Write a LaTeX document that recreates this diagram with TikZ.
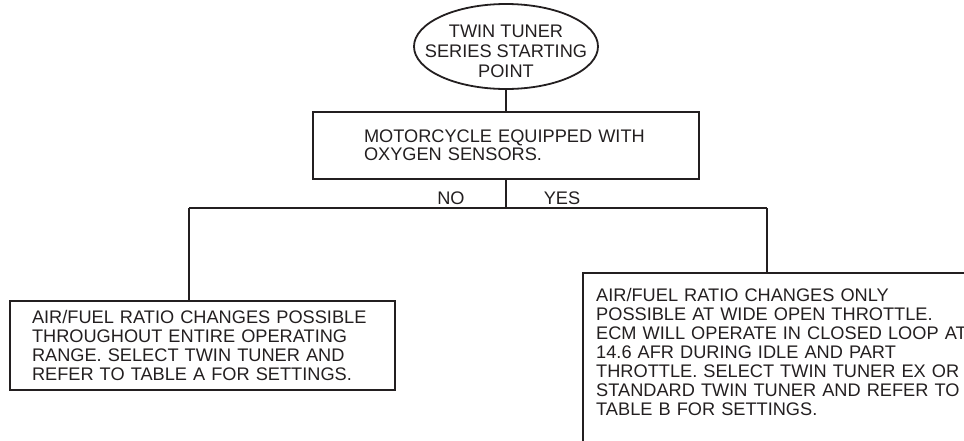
\documentclass[tikz,border=0pt]{standalone}
\usepackage{fontspec}
\setmainfont{Liberation Sans}
\usetikzlibrary{shapes.geometric}
\definecolor{ink}{RGB}{35,31,32}
\tikzset{
  lines/.style={draw=ink, line width=1.8pt},
  txt/.style={font=\fontsize{18.2}{19}\selectfont, text=ink},
  startnode/.style={lines, ellipse, inner sep=0pt, minimum width=184pt, minimum height=85pt},
  qbox/.style={lines, txt, rectangle, inner sep=0pt, align=left},
  ansbox/.style={lines, txt, rectangle, inner sep=0pt, align=left},
  openbox/.style={txt, rectangle, inner xsep=13pt, inner ysep=15pt, align=left, anchor=north west},
  branch/.style={txt, anchor=base, inner sep=0pt}
}
\begin{document}
\begin{tikzpicture}[x=1pt, y=-1pt]
\useasboundingbox (0,0) rectangle (964,440);
\clip (0,0) rectangle (964,440);
% start ellipse
\node[startnode, label={[txt, align=center, font=\fontsize{18.2}{20}\selectfont, yshift=-5pt]center:TWIN TUNER\\SERIES STARTING\\POINT}] (start) at (506,46.5) {};
% question box
\node[qbox, font=\fontsize{18.2}{18}\selectfont, text width=284pt, minimum width=386pt, minimum height=67pt] (q) at (506,145.5)
  {MOTORCYCLE EQUIPPED WITH\\OXYGEN SENSORS.};
% left answer box
\node[ansbox, text width=341pt, minimum width=385pt, minimum height=89pt] (no) at (202.5,345.5)
  {AIR/FUEL RATIO CHANGES POSSIBLE\\THROUGHOUT ENTIRE OPERATING\\RANGE. SELECT TWIN TUNER AND\\REFER TO TABLE A FOR SETTINGS.};
% right answer box (cut off at the picture's edge)
\node[openbox, text width=380pt] (yes) at (583,273)
  {AIR/FUEL RATIO CHANGES ONLY\\POSSIBLE AT WIDE OPEN THROTTLE.\\ECM WILL OPERATE IN CLOSED LOOP AT\\14.6 AFR DURING IDLE AND PART\\THROTTLE. SELECT TWIN TUNER EX OR\\STANDARD TWIN TUNER AND REFER TO\\TABLE B FOR SETTINGS.};
\draw[lines] ([xshift=420pt]yes.north west) -- (yes.north west) -- ++(0,220);
% connectors
\coordinate (j) at (506,208);
\coordinate (jl) at (189,208);
\coordinate (jr) at (767,208);
\draw[lines] (start.south) -- (q.north);
\draw[lines] (q.south) -- (j);
\draw[lines] (jl) -- (jr);
\draw[lines] (jl) -- (jl |- no.north);
\draw[lines] (jr) -- (jr |- yes.north);
% branch labels
\node[branch] (lno) at (451,204) {NO};
\node[branch] (lyes) at (562,204) {YES};
\end{tikzpicture}
\end{document}
